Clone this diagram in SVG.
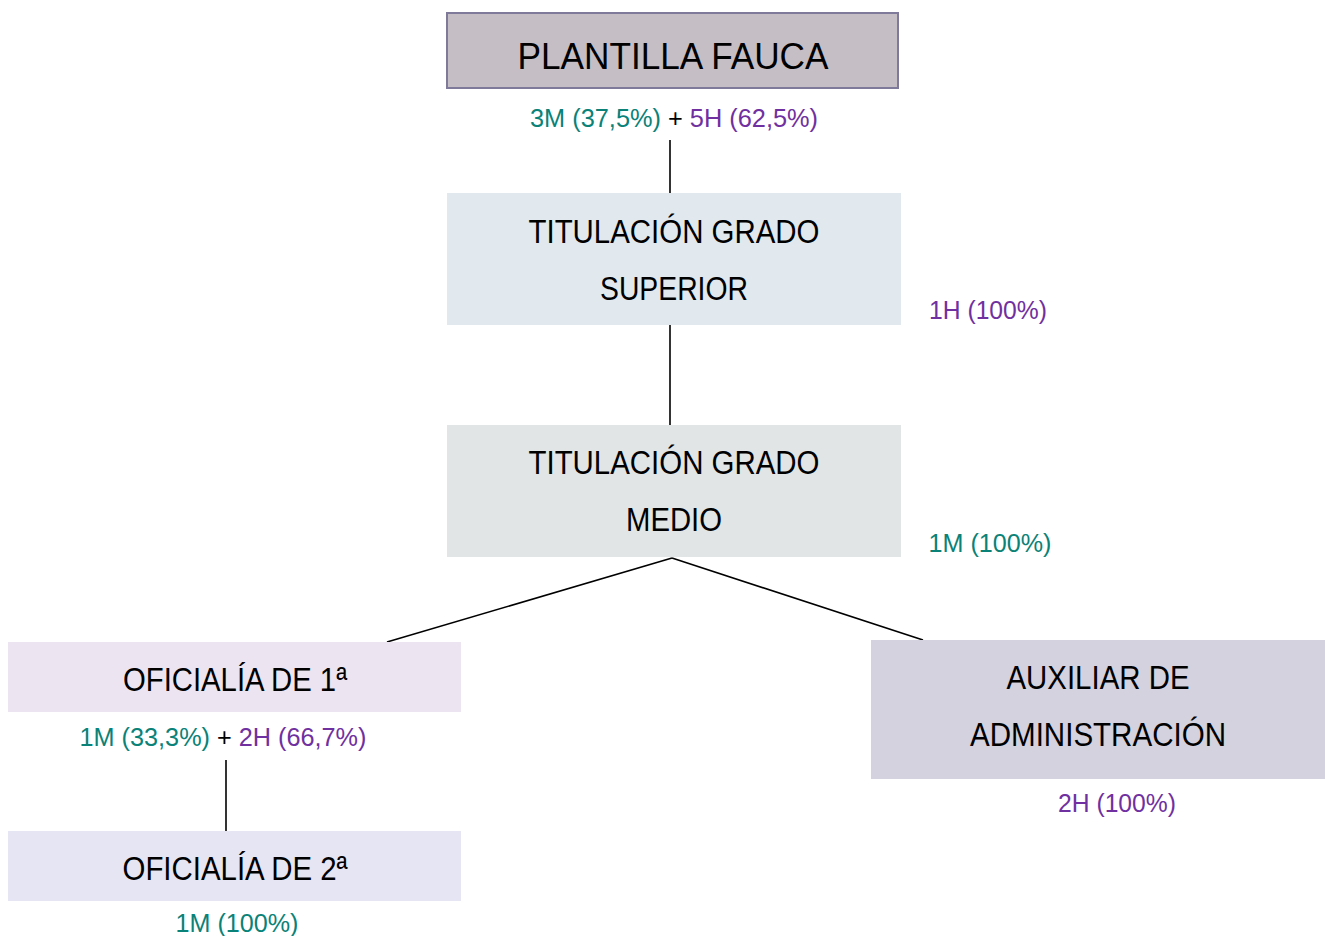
<svg xmlns="http://www.w3.org/2000/svg" width="1325" height="936" viewBox="0 0 1325 936">
<style>
text{font-family:"Liberation Sans",Arial,sans-serif;text-anchor:middle}
.t{font-size:33px;fill:#000}
.c{font-size:25px}
.m{fill:#0a8277}
.h{fill:#7030a0}
.k{fill:#000}
.conn line{stroke:#000;stroke-width:1.6}
</style>
<rect width="1325" height="936" fill="#fff"/>
<g class="conn">
<line x1="670" y1="140" x2="670" y2="193"/>
<line x1="670" y1="325" x2="670" y2="425"/>
<line x1="672" y1="558" x2="387" y2="642"/>
<line x1="672" y1="558" x2="923" y2="640"/>
<line x1="226" y1="760" x2="226" y2="831"/>
</g>
<g id="plantilla">
<rect x="447" y="13" width="451" height="75" fill="#c5bec5" stroke="#7f7a9a" stroke-width="2"/>
<text x="673" y="69" class="t" style="font-size:37px" textLength="311" lengthAdjust="spacingAndGlyphs">PLANTILLA FAUCA</text>
<text x="674" y="127" class="c" textLength="288" lengthAdjust="spacingAndGlyphs"><tspan class="m">3M (37,5%)</tspan><tspan class="k"> + </tspan><tspan class="h">5H (62,5%)</tspan></text>
</g>
<g id="superior">
<rect x="447" y="193" width="454" height="132" fill="#e1e9ee"/>
<text x="674" y="243" class="t" textLength="291" lengthAdjust="spacingAndGlyphs">TITULACIÓN GRADO</text>
<text x="674" y="300" class="t" textLength="148" lengthAdjust="spacingAndGlyphs">SUPERIOR</text>
<text x="988" y="319" class="c h" textLength="118" lengthAdjust="spacingAndGlyphs">1H (100%)</text>
</g>
<g id="medio">
<rect x="447" y="425" width="454" height="132" fill="#e1e5e6"/>
<text x="674" y="474" class="t" textLength="291" lengthAdjust="spacingAndGlyphs">TITULACIÓN GRADO</text>
<text x="674" y="531" class="t" textLength="96" lengthAdjust="spacingAndGlyphs">MEDIO</text>
<text x="990" y="552" class="c m" textLength="123" lengthAdjust="spacingAndGlyphs">1M (100%)</text>
</g>
<g id="oficialia1">
<rect x="8" y="642" width="453" height="70" fill="#ece5f1"/>
<text x="235" y="691" class="t" textLength="224" lengthAdjust="spacingAndGlyphs">OFICIALÍA DE 1ª</text>
<text x="223" y="746" class="c" textLength="287" lengthAdjust="spacingAndGlyphs"><tspan class="m">1M (33,3%)</tspan><tspan class="k"> + </tspan><tspan class="h">2H (66,7%)</tspan></text>
</g>
<g id="oficialia2">
<rect x="8" y="831" width="453" height="70" fill="#e6e5f3"/>
<text x="235" y="880" class="t" textLength="225" lengthAdjust="spacingAndGlyphs">OFICIALÍA DE 2ª</text>
<text x="237" y="932" class="c m" textLength="123" lengthAdjust="spacingAndGlyphs">1M (100%)</text>
</g>
<g id="auxiliar">
<rect x="871" y="640" width="454" height="139" fill="#d4d2de"/>
<text x="1098" y="689" class="t" textLength="183" lengthAdjust="spacingAndGlyphs">AUXILIAR DE</text>
<text x="1098" y="746" class="t" textLength="256" lengthAdjust="spacingAndGlyphs">ADMINISTRACIÓN</text>
<text x="1117" y="812" class="c h" textLength="118" lengthAdjust="spacingAndGlyphs">2H (100%)</text>
</g>
</svg>
